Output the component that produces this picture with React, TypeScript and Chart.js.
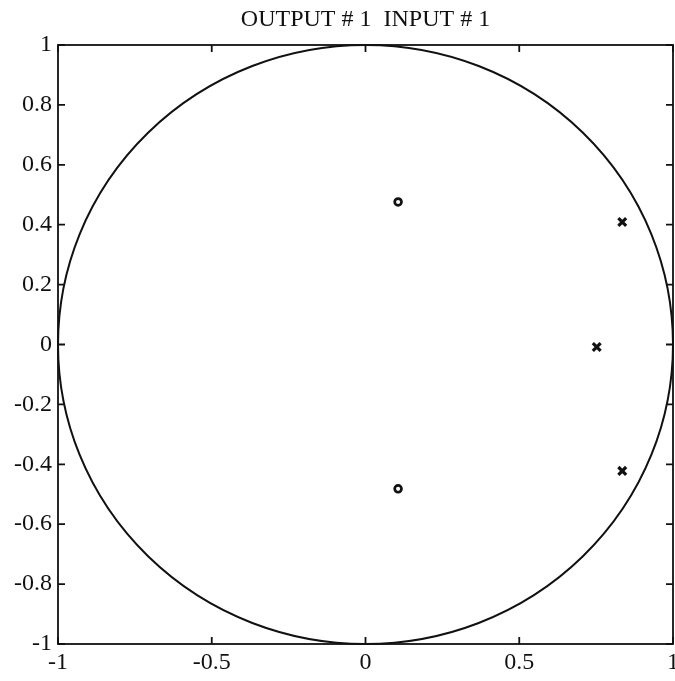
import React, { useEffect, useRef } from "react";
import { Chart, registerables } from "chart.js";

Chart.register(...registerables);

const titleText = "OUTPUT # 1  INPUT # 1";
const xTickValues = [-1, -0.5, 0, 0.5, 1];
const yTickValues = [-1, -0.8, -0.6, -0.4, -0.2, 0, 0.2, 0.4, 0.6, 0.8, 1];
const zeroRe = [0.106, 0.106];
const zeroIm = [0.476, -0.482];
const poleRe = [0.835, 0.752, 0.835];
const poleIm = [0.409, -0.008, -0.422];
const unitCircleRadius = 1;

const INK = "#111111";
const SERIF = "'Liberation Serif', 'DejaVu Serif', serif";

const framePlugin = {
  id: "frame",
  beforeDatasetsDraw(chart: any) {
    const { ctx, chartArea, scales } = chart;
    const { left, right, top, bottom } = chartArea;
    const x = scales.x;
    const y = scales.y;
    ctx.save();
    ctx.strokeStyle = INK;
    ctx.lineWidth = 1.8;
    ctx.strokeRect(left, top, right - left, bottom - top);
    const tl = 7;
    ctx.beginPath();
    xTickValues.forEach((v) => {
      const px = x.getPixelForValue(v);
      ctx.moveTo(px, bottom);
      ctx.lineTo(px, bottom - tl);
      ctx.moveTo(px, top);
      ctx.lineTo(px, top + tl);
    });
    yTickValues.forEach((v) => {
      const py = y.getPixelForValue(v);
      ctx.moveTo(left, py);
      ctx.lineTo(left + tl, py);
      ctx.moveTo(right, py);
      ctx.lineTo(right - tl, py);
    });
    ctx.stroke();
    const cx = x.getPixelForValue(0);
    const cy = y.getPixelForValue(0);
    const rx = x.getPixelForValue(unitCircleRadius) - cx;
    const ry = cy - y.getPixelForValue(unitCircleRadius);
    ctx.beginPath();
    ctx.lineWidth = 2;
    ctx.ellipse(cx, cy, rx, ry, 0, 0, Math.PI * 2);
    ctx.stroke();
    ctx.restore();
  },
};

export default function App() {
  const ref = useRef<HTMLCanvasElement | null>(null);
  useEffect(() => {
    if (!ref.current) return;
    const tickFont = { family: SERIF, size: 24 };
    const chart = new Chart(ref.current, {
      type: "scatter",
      data: {
        datasets: [
          {
            label: "zeros",
            data: zeroRe.map((re, i) => ({ x: re, y: zeroIm[i] })),
            pointStyle: "circle",
            pointRadius: 3.4,
            pointBorderWidth: 2.7,
            borderColor: INK,
            backgroundColor: "#ffffff",
          },
          {
            label: "poles",
            data: poleRe.map((re, i) => ({ x: re, y: poleIm[i] })),
            pointStyle: "crossRot",
            pointRadius: 5.5,
            pointBorderWidth: 3.2,
            borderColor: INK,
            backgroundColor: INK,
          },
        ],
      },
      options: {
        animation: false,
        responsive: false,
        maintainAspectRatio: false,
        layout: { autoPadding: false, padding: { left: 0, right: 2, top: 0, bottom: 0 } },
        plugins: {
          legend: { display: false },
          tooltip: { enabled: false },
          title: {
            display: true,
            text: titleText,
            fullSize: false,
            color: INK,
            font: { family: SERIF, size: 24, weight: "normal" },
            padding: { top: 5.6, bottom: 10.6 },
          },
        },
        scales: {
          x: {
            type: "linear",
            min: -1,
            max: 1,
            afterBuildTicks: (s: any) => {
              s.ticks = xTickValues.map((v) => ({ value: v }));
            },
            afterFit: (s: any) => {
              s.height = 37;
              s.paddingLeft = 0;
              s.paddingRight = 0;
            },
            grid: { display: false, drawTicks: false },
            border: { display: false },
            ticks: {
              color: INK,
              font: tickFont,
              padding: 4.5,
              maxRotation: 0,
              autoSkip: false,
              callback: (v: any) => String(v),
            },
          },
          y: {
            type: "linear",
            min: -1,
            max: 1,
            afterBuildTicks: (s: any) => {
              s.ticks = yTickValues.map((v) => ({ value: v }));
            },
            afterFit: (s: any) => {
              s.width = 58;
              s.paddingTop = 0;
              s.paddingBottom = 0;
            },
            grid: { display: false, drawTicks: false },
            border: { display: false },
            ticks: {
              color: INK,
              font: tickFont,
              padding: 6,
              autoSkip: false,
              callback: (v: any) => String(v),
            },
          },
        },
      },
      plugins: [framePlugin],
    } as any);
    return () => chart.destroy();
  }, []);
  return (
    <div style={{ position: "fixed", left: 0, top: 0, width: 675, height: 681, background: "#fff" }}>
      <canvas ref={ref} width={675} height={681} style={{ width: 675, height: 681 }} />
    </div>
  );
}
